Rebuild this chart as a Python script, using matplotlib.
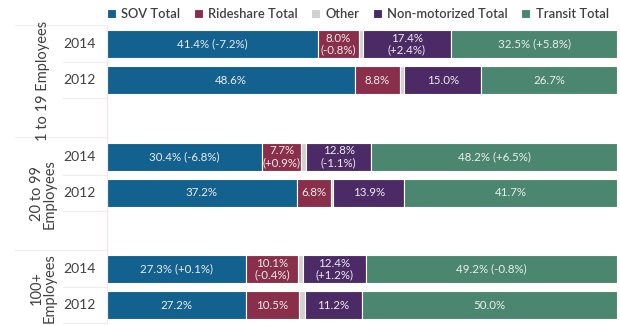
import matplotlib.pyplot as plt
import numpy as np

plt.rcParams['font.family'] = ['Lato', 'DejaVu Sans']

# data
groups = ["1 to 19 Employees", "20 to 99\nEmployees", "100+\nEmployees"]
years = ["2014", "2012"]
modes = ["SOV Total", "Rideshare Total", "Other", "Non-motorized Total", "Transit Total"]
colors = ["#13618f", "#8a2f4b", "#d3d0d2", "#4b2a66", "#4a8670"]

# rows: 1-19 2014, 1-19 2012, 20-99 2014, 20-99 2012, 100+ 2014, 100+ 2012
sov = [41.4, 48.6, 30.4, 37.2, 27.3, 27.2]
rideshare = [8.0, 8.8, 7.7, 6.8, 10.1, 10.5]
other = [0.7, 0.9, 0.9, 0.4, 1.0, 1.1]
nonmotor = [17.4, 15.0, 12.8, 13.9, 12.4, 11.2]
transit = [32.5, 26.7, 48.2, 41.7, 49.2, 50.0]

sov_lbl = ["41.4% (-7.2%)", "48.6%", "30.4% (-6.8%)", "37.2%", "27.3% (+0.1%)", "27.2%"]
ride_lbl = ["8.0%\n(-0.8%)", "8.8%", "7.7%\n(+0.9%)", "6.8%", "10.1%\n(-0.4%)", "10.5%"]
other_lbl = ["", "", "", "", "", ""]
nonm_lbl = ["17.4%\n(+2.4%)", "15.0%", "12.8%\n(-1.1%)", "13.9%", "12.4%\n(+1.2%)", "11.2%"]
tran_lbl = ["32.5% (+5.8%)", "26.7%", "48.2% (+6.5%)", "41.7%", "49.2% (-0.8%)", "50.0%"]

values = [sov, rideshare, other, nonmotor, transit]
labels = [sov_lbl, ride_lbl, other_lbl, nonm_lbl, tran_lbl]

fig = plt.figure(figsize=(6.2, 3.25), dpi=100)
ax = fig.add_axes([107 / 620, 3 / 325, 510 / 620, 297 / 325])

gap = 3.125
ypos = []
for g in range(3):
    for j in range(2):
        ypos.append(g * gap + j)
ypos = np.array(ypos)

left = np.zeros(6)
for vals, col, lbls, name in zip(values, colors, labels, modes):
    vals = np.array(vals)
    ax.barh(ypos, vals, left=left, height=0.78, color=col, edgecolor="white",
            linewidth=0.8, label=name)
    for y, l, v, t in zip(ypos, left, vals, lbls):
        if t:
            ax.text(l + v / 2, y, t, ha="center", va="center", color="#eeeeee",
                    fontsize=8.3, linespacing=1.05)
    left += vals

ax.set_xlim(0, 100)
ax.set_ylim(ypos[-1] + 0.47, -0.53)
ax.axis("off")

# table-like labels on the left
tr = ax.get_yaxis_transform()
grid = "#eeeeee"
bottom = ypos[-1] + 0.47
for g in range(3):
    top = g * gap - 0.53
    ax.plot([-0.18, 0], [top, top], color=grid, lw=0.8, transform=tr, clip_on=False)
    ax.plot([-0.086, 0], [g * gap + 0.5] * 2, color=grid, lw=0.8, transform=tr, clip_on=False)
    ax.plot([-0.086, 0], [g * gap + 1.5] * 2, color=grid, lw=0.8, transform=tr, clip_on=False)
    if g < 2:
        mid = top + gap / 2
    else:
        mid = top + (bottom + 0.1 - top) / 2
    ax.text(-0.125, mid, groups[g], rotation=90, ha="center", va="center",
            fontsize=10.5, color="#404040", transform=tr, linespacing=0.95)
    for j in range(2):
        ax.text(-0.053, g * gap + j, years[j], ha="center", va="center",
                fontsize=10, color="#404040", transform=tr)
ax.plot([0, 0], [-0.53, bottom], color="#f3e6e6", lw=0.8, clip_on=False)

fig.legend(loc="center", bbox_to_anchor=(0.577, 1 - 14 / 325), ncol=5, frameon=False,
           handlelength=0.7, handleheight=0.7, handletextpad=0.4, columnspacing=1.05,
           prop={"size": 9.3, "weight": "semibold"}, labelcolor="#404040")

fig.savefig("out.png", dpi=100)
